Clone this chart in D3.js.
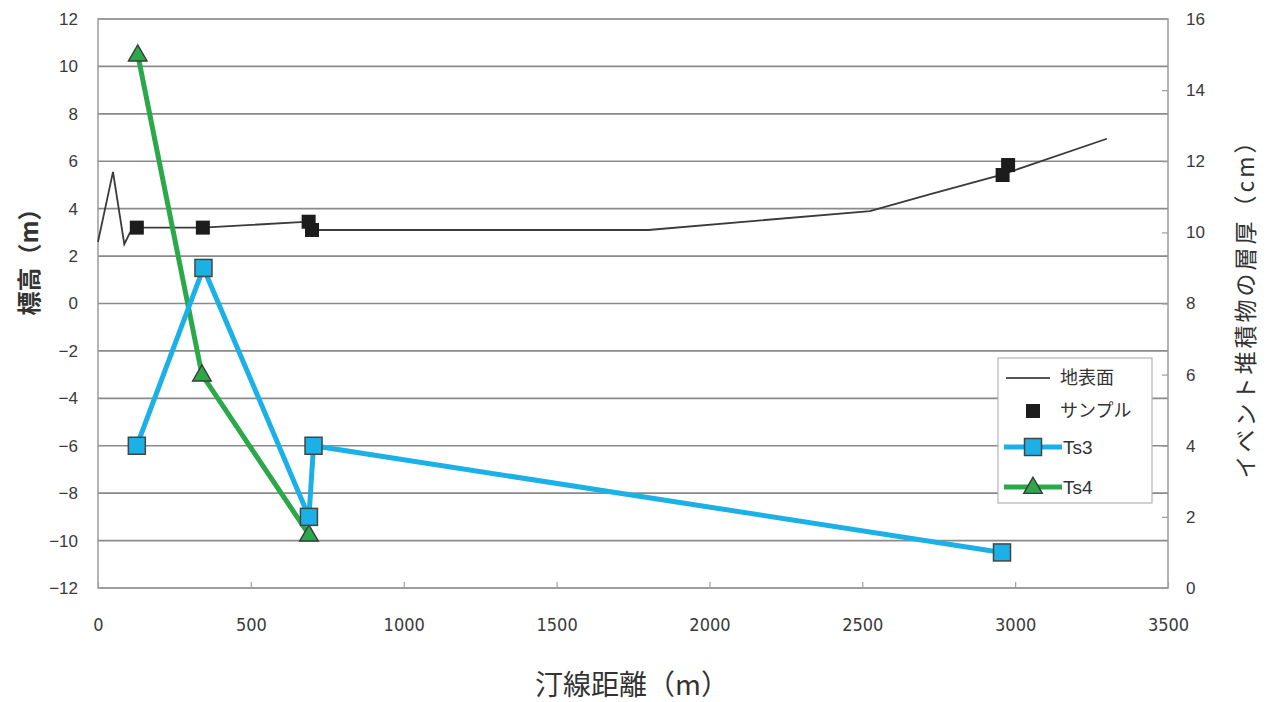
<!DOCTYPE html>
<html lang="ja">
<head>
<meta charset="utf-8">
<title>汀線距離と標高</title>
<script src="https://d3js.org/d3.v7.min.js"></script>
<style>
  body { margin: 0; background: #fff; }
  text { font-family: "Liberation Sans", Arial, sans-serif; }
  .jp { font-family: "Noto Sans CJK JP", "Noto Sans", sans-serif; }
</style>
</head>
<body>
<div id="chart"></div>
<script>
// Ground surface profile (x: m from shoreline, y: elevation m)
const groundX = [0, 49, 86, 105, 127, 343, 689, 700, 1800, 2525, 2720, 2960, 3300];
const groundY = [2.6, 5.55, 2.5, 3.0, 3.2, 3.2, 3.45, 3.1, 3.1, 3.9, 4.6, 5.45, 6.95];

// Sample locations (elevation, left axis)
const sampleX = [127, 343, 689, 700, 2959, 2977];
const sampleY = [3.2, 3.2, 3.45, 3.1, 5.42, 5.84];

// Event deposit thickness (cm, right axis)
const ts3X = [127, 345, 690, 705, 2957];
const ts3Y = [4, 9, 2, 4, 1];
const ts4X = [130, 340, 690];
const ts4Y = [15, 6, 1.5];

const xTicks = [0, 500, 1000, 1500, 2000, 2500, 3000, 3500];
const yLeftTicks = [-12, -10, -8, -6, -4, -2, 0, 2, 4, 6, 8, 10, 12];
const yRightTicks = [0, 2, 4, 6, 8, 10, 12, 14, 16];

const legendItems = ["地表面", "サンプル", "Ts3", "Ts4"];

// Chart dimensions
const W = 1268, H = 702;
const margin = { top: 19, right: 100, bottom: 114, left: 98 };
const width = W - margin.left - margin.right;
const height = H - margin.top - margin.bottom;

const svg = d3.select("#chart").append("svg")
  .attr("width", W)
  .attr("height", H);

const g = svg.append("g")
  .attr("transform", `translate(${margin.left},${margin.top})`);

// Scales
const x = d3.scaleLinear().domain([0, 3500]).range([0, width]);
const yL = d3.scaleLinear().domain([-12, 12]).range([height, 0]);
const yR = d3.scaleLinear().domain([0, 16]).range([height, 0]);

// Gridlines
g.append("g")
  .selectAll("line")
  .data(yLeftTicks)
  .join("line")
  .attr("x1", 0).attr("x2", width)
  .attr("y1", d => yL(d)).attr("y2", d => yL(d))
  .attr("stroke", "#8a8a8a")
  .attr("stroke-width", 1.6);

// Frame
g.append("rect")
  .attr("width", width).attr("height", height)
  .attr("fill", "none")
  .attr("stroke", "#9a9a9a")
  .attr("stroke-width", 1.5);

// Axes
const fmt = d => String(d).replace("-", "\u2212");
const axB = g.append("g")
  .attr("transform", `translate(0,${height})`)
  .call(d3.axisBottom(x).tickValues(xTicks).tickSize(-6).tickPadding(30).tickFormat(d => d));
const axL = g.append("g")
  .call(d3.axisLeft(yL).tickValues(yLeftTicks).tickSize(0).tickPadding(20).tickFormat(fmt));
const axR = g.append("g")
  .attr("transform", `translate(${width},0)`)
  .call(d3.axisRight(yR).tickValues(yRightTicks).tickSize(-6).tickPadding(18));

[axB, axL, axR].forEach(a => {
  a.select(".domain").remove();
  a.selectAll(".tick line").attr("stroke", "#a0a0a0").attr("stroke-width", 1.2);
  a.selectAll("text").attr("fill", "#3a3a3a");
});
axB.selectAll("text")
  .style("font-family", '"Liberation Sans Narrow", "DejaVu Sans Condensed", sans-serif')
  .style("font-size", "18px");
axL.selectAll("text").style("font-size", "17px");
axR.selectAll("text").style("font-size", "17px");

// Lines
const pts = (xs, ys) => xs.map((v, i) => [v, ys[i]]);
const lineL = d3.line().x(d => x(d[0])).y(d => yL(d[1]));
const lineR = d3.line().x(d => x(d[0])).y(d => yR(d[1]));

g.append("path")
  .datum(pts(groundX, groundY))
  .attr("d", lineL)
  .attr("fill", "none")
  .attr("stroke", "#3a3a3a")
  .attr("stroke-width", 1.8);

g.append("g")
  .selectAll("rect")
  .data(pts(sampleX, sampleY))
  .join("rect")
  .attr("x", d => x(d[0]) - 7).attr("y", d => yL(d[1]) - 7)
  .attr("width", 14).attr("height", 14)
  .attr("fill", "#1c1c1c");

const green = "#2ba84a", blue = "#1bb1e7";
const tri = d3.symbol().type(d3.symbolTriangle).size(150);

g.append("path")
  .datum(pts(ts4X, ts4Y))
  .attr("d", lineR)
  .attr("fill", "none")
  .attr("stroke", green)
  .attr("stroke-width", 5);
g.append("g")
  .selectAll("path")
  .data(pts(ts4X, ts4Y))
  .join("path")
  .attr("transform", d => `translate(${x(d[0])},${yR(d[1]) + 1})`)
  .attr("d", tri)
  .attr("fill", green)
  .attr("stroke", "#3a3a3a")
  .attr("stroke-width", 1.4);

g.append("path")
  .datum(pts(ts3X, ts3Y))
  .attr("d", lineR)
  .attr("fill", "none")
  .attr("stroke", blue)
  .attr("stroke-width", 5);
g.append("g")
  .selectAll("rect")
  .data(pts(ts3X, ts3Y))
  .join("rect")
  .attr("x", d => x(d[0]) - 8.5).attr("y", d => yR(d[1]) - 8.5)
  .attr("width", 17).attr("height", 17)
  .attr("fill", blue)
  .attr("stroke", "#444")
  .attr("stroke-width", 1.5);

// Legend
const lg = svg.append("g").attr("transform", "translate(998,358)");
lg.append("rect")
  .attr("width", 154).attr("height", 145)
  .attr("fill", "#fff")
  .attr("stroke", "#b5b5b5")
  .attr("stroke-width", 1.2);
const rowY = [20, 53, 89, 129];
lg.append("line")
  .attr("x1", 8).attr("x2", 52).attr("y1", rowY[0]).attr("y2", rowY[0])
  .attr("stroke", "#555").attr("stroke-width", 2);
lg.append("rect")
  .attr("x", 28).attr("y", rowY[1] - 7).attr("width", 14).attr("height", 14)
  .attr("fill", "#1c1c1c");
lg.append("line")
  .attr("x1", 6).attr("x2", 64).attr("y1", rowY[2]).attr("y2", rowY[2])
  .attr("stroke", blue).attr("stroke-width", 5);
lg.append("rect")
  .attr("x", 26.5).attr("y", rowY[2] - 8.5).attr("width", 17).attr("height", 17)
  .attr("fill", blue).attr("stroke", "#444").attr("stroke-width", 1.5);
lg.append("line")
  .attr("x1", 6).attr("x2", 64).attr("y1", rowY[3]).attr("y2", rowY[3])
  .attr("stroke", green).attr("stroke-width", 5);
lg.append("path")
  .attr("transform", `translate(35,${rowY[3] + 1})`)
  .attr("d", tri)
  .attr("fill", green).attr("stroke", "#3a3a3a").attr("stroke-width", 1.4);
lg.selectAll("text.lab")
  .data(legendItems)
  .join("text")
  .attr("class", (d, i) => i < 2 ? "lab jp" : "lab")
  .attr("x", (d, i) => i < 2 ? 62 : 65)
  .attr("y", (d, i) => rowY[i])
  .attr("dy", "0.35em")
  .attr("fill", "#333")
  .style("font-size", (d, i) => i < 2 ? "18px" : "19px")
  .style("font-family", (d, i) => i < 2 ? null : '"Liberation Sans Narrow", sans-serif')
  .text(d => d);

// Axis titles
svg.append("text")
  .attr("class", "jp")
  .attr("transform", "translate(30,256) rotate(-90)")
  .attr("text-anchor", "middle")
  .attr("dy", "0.35em")
  .attr("fill", "#333")
  .style("font-size", "24px")
  .style("font-weight", "bold")
  .text("標高（m）");

svg.append("text")
  .attr("class", "jp")
  .attr("transform", "translate(1246,303) rotate(-90)")
  .attr("text-anchor", "middle")
  .attr("dy", "0.35em")
  .attr("fill", "#333")
  .style("font-size", "23px")
  .style("letter-spacing", "3px")
  .text("イベント堆積物の層厚（cm）");

svg.append("text")
  .attr("class", "jp")
  .attr("x", 632).attr("y", 685)
  .attr("text-anchor", "middle")
  .attr("dy", "0.35em")
  .attr("fill", "#333")
  .style("font-size", "28px")
  .text("汀線距離（m）");
</script>
</body>
</html>
